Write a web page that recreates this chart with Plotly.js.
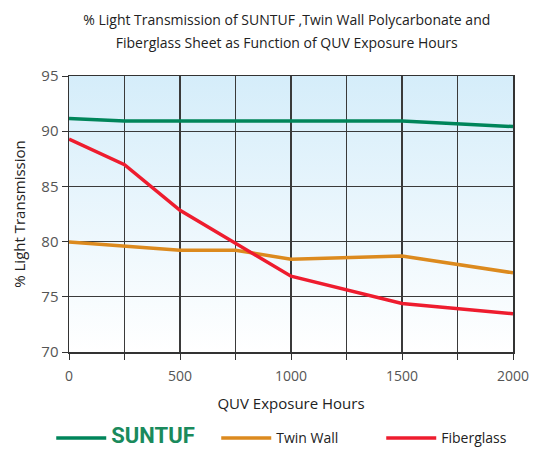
<!DOCTYPE html>
<html><head><meta charset="utf-8">
<script src="https://cdn.plot.ly/plotly-3.0.1.min.js"></script>
<style>html,body{margin:0;padding:0;background:#fff;}#chart{width:536px;height:451px;}</style>
</head><body><div id="chart"></div>
<script>
const suntufHours = [0, 250, 1500, 2000];
const suntuf = [91.15, 90.93, 90.93, 90.42];
const twinHours = [0, 250, 500, 750, 1000, 1500, 2000];
const twinWall = [79.97, 79.6, 79.22, 79.22, 78.4, 78.7, 77.17];
const fiberHours = [0, 250, 500, 1000, 1500, 2000];
const fiberglass = [89.28, 86.96, 82.83, 76.87, 74.4, 73.46];
const xTicks = [0, 500, 1000, 1500, 2000];
const yTicks = [70, 75, 80, 85, 90, 95];
const seriesNames = ['SUNTUF', 'Twin Wall', 'Fiberglass'];
const titleLines = ['% Light Transmission of SUNTUF ,Twin Wall Polycarbonate and', 'Fiberglass Sheet as Function of QUV Exposure Hours'];

const grad = 'data:image/svg+xml;base64,' + btoa('<svg xmlns="http://www.w3.org/2000/svg" width="100" height="100" preserveAspectRatio="none"><defs><linearGradient id="g" x1="0" y1="0" x2="0" y2="1"><stop offset="0" stop-color="#d5edfa"/><stop offset="1" stop-color="#ffffff"/></linearGradient></defs><rect width="100" height="100" fill="url(#g)"/></svg>');

const font = "'Open Sans', 'DejaVu Sans', sans-serif";
const traces = [
  {x: suntufHours, y: suntuf, mode: 'lines', name: '<b><span style="color:#1a8a5c;font-size:22px;font-family:Roboto">' + seriesNames[0] + '</span></b>', line: {color: '#00855a', width: 3.5}},
  {x: twinHours, y: twinWall, mode: 'lines', name: seriesNames[1], line: {color: '#dc8a1e', width: 3.5}},
  {x: fiberHours, y: fiberglass, mode: 'lines', name: seriesNames[2], line: {color: '#ee1c2e', width: 3.5}}
];
const layout = {
  width: 536, height: 451,
  margin: {l: 69, r: 23, t: 76, b: 99, autoexpand: false},
  paper_bgcolor: '#fff', plot_bgcolor: 'rgba(0,0,0,0)',
  font: {family: font, color: '#333', size: 13},
  title: {text: titleLines.map(t => '<span style="font-size:14px">' + t + '</span>').join('<br>'),
          x: 0.535, xanchor: 'center', xref: 'container', yref: 'container', y: 0.945, yanchor: 'top',
          font: {size: 18, color: '#222', family: font}},
  images: [{source: grad, xref: 'paper', yref: 'paper', x: 0, y: 1, sizex: 1, sizey: 1, sizing: 'stretch', layer: 'below'}],
  xaxis: {range: [0, 2000], tickvals: xTicks, showgrid: false,
          minor: {dtick: 250, tick0: 0, showgrid: true, gridcolor: '#3a3a3a', gridwidth: 1.2, ticks: 'outside', ticklen: 6, tickcolor: '#333'},
          ticks: 'outside', ticklen: 6, tickcolor: '#333', showline: true, linecolor: '#333', linewidth: 1.5, mirror: true,
          zeroline: false, tickfont: {size: 14, color: '#555'}, ticklabelstandoff: 5,
          title: {text: 'QUV Exposure Hours', font: {size: 15, color: '#222', family: font}, standoff: 14}},
  yaxis: {range: [70, 95], tickvals: yTicks, showgrid: true, gridcolor: '#3a3a3a', gridwidth: 1.2,
          ticks: 'outside', ticklen: 6, tickcolor: '#333', showline: true, linecolor: '#333', linewidth: 1.5, mirror: true,
          zeroline: false, tickfont: {size: 15, color: '#555'},
          title: {text: '% Light Transmission', font: {size: 15, color: '#222', family: font}, standoff: 12}},
  showlegend: true,
  legend: {orientation: 'h', x: -0.04, xanchor: 'left', y: -0.255, yanchor: 'top', itemwidth: 50,
           entrywidth: 100, entrywidthmode: 'pixels',
           font: {size: 14, color: '#222', family: font}}
};
Plotly.newPlot('chart', traces, layout, {displayModeBar: false, staticPlot: true});
</script></body></html>
